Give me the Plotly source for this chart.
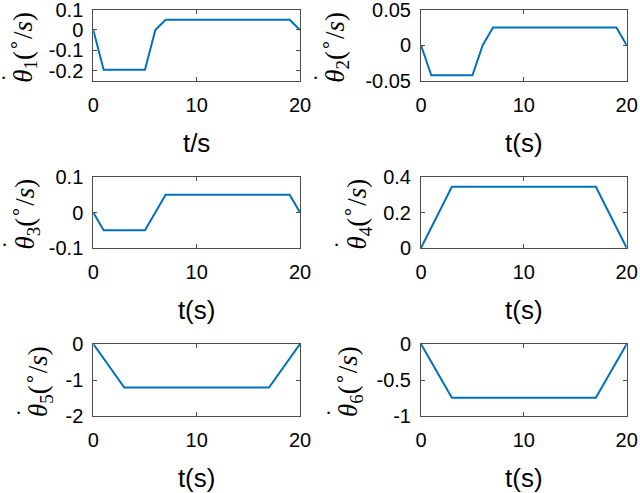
import plotly.graph_objects as go

# ---- data ----
t1 = [0, 1, 5, 6, 7, 19, 20]
v1 = [0, -0.195, -0.195, 0, 0.05, 0.05, 0]
t2 = [0, 1, 5, 6, 7, 19, 20]
v2 = [0, -0.042, -0.042, 0, 0.025, 0.025, 0]
t3 = [0, 1, 5, 6, 7, 19, 20]
v3 = [0, -0.05, -0.05, 0, 0.05, 0.05, 0]
t4 = [0, 3, 17, 20]
v4 = [0, 0.345, 0.345, 0]
t5 = [0, 3, 17, 20]
v5 = [0, -1.21, -1.21, 0]
t6 = [0, 3, 17, 20]
v6 = [0, -0.745, -0.745, 0]

x_titles = ["t/s", "t(s)", "t(s)", "t(s)", "t(s)", "t(s)"]
y_ranges = [[-0.25, 0.1], [-0.05, 0.05], [-0.1, 0.1], [0, 0.4], [-2, 0], [-1, 0]]
y_ticks = [[-0.2, -0.1, 0, 0.1], [-0.05, 0, 0.05], [-0.1, 0, 0.1], [0, 0.2, 0.4], [-2, -1, 0], [-1, -0.5, 0]]
y_ticktext = [["-0.2", "-0.1", "0", "0.1"], ["-0.05", "0", "0.05"], ["-0.1", "0", "0.1"],
              ["0", "0.2", "0.4"], ["-2", "-1", "0"], ["-1", "-0.5", "0"]]
x_ticks = [0, 10, 20]

series = [(t1, v1), (t2, v2), (t3, v3), (t4, v4), (t5, v5), (t6, v6)]

W, H = 640, 493
col_px = [(93.3, 300.0), (421.0, 626.7)]
row_px = [(9.5, 81.0), (177.0, 248.0), (344.0, 416.0)]
# y-label centre x (px) per subplot
ylab_x = [22.5, 334.5, 24.0, 356.0, 38.0, 348.0]

fig = go.Figure()
FONT = "Liberation Sans, Arial, sans-serif"
SERIF = "Liberation Serif, Times New Roman, serif"
AX = "#4d4d4d"

for i, (tt, vv) in enumerate(series):
    r, c = divmod(i, 2)
    n = i + 1
    xa = "x" if n == 1 else f"x{n}"
    ya = "y" if n == 1 else f"y{n}"
    fig.add_trace(go.Scatter(x=tt, y=vv, mode="lines",
                             line=dict(color="#0072BD", width=2),
                             xaxis=xa, yaxis=ya, showlegend=False,
                             hoverinfo="skip"))
    x0, x1 = col_px[c]
    top, bot = row_px[r]
    lo, hi = y_ranges[i]
    eps = (hi - lo) * 1e-6
    common = dict(showline=True, linecolor=AX, linewidth=1, mirror="allticks",
                  ticks="inside", ticklen=4, tickcolor=AX, showgrid=False,
                  zeroline=False, automargin=False, ticklabeloverflow="allow",
                  tickfont=dict(family=FONT, size=20, color="#000"))
    fig.layout[f"xaxis{'' if n == 1 else n}"] = dict(
        domain=[x0 / W, x1 / W], anchor=ya, range=[0, 20],
        tickvals=x_ticks, ticktext=[str(v) for v in x_ticks],
        ticklabelstandoff=6,
        title=dict(text=x_titles[i], font=dict(family=FONT, size=26, color="#000"), standoff=18),
        **common)
    fig.layout[f"yaxis{'' if n == 1 else n}"] = dict(
        domain=[1 - bot / H, 1 - top / H], anchor=xa, range=[lo - eps, hi + eps],
        tickvals=y_ticks[i], ticktext=y_ticktext[i],
        ticklabelstandoff=5,
        **common)
    cy = (top + bot) / 2 + 2
    cx = ylab_x[i]
    fig.add_annotation(text=f"<i>θ</i><sub>{n}</sub>(<sup>∘</sup>/<i>s</i>)",
                       textangle=-90, xref="paper", yref="paper",
                       x=cx / W, y=1 - cy / H, xanchor="center", yanchor="middle",
                       showarrow=False, font=dict(family=SERIF, size=27, color="#000"))
    fig.add_annotation(text="•", xref="paper", yref="paper",
                       x=(cx - 19.5) / W, y=1 - (cy + 31) / H,
                       xanchor="center", yanchor="middle",
                       showarrow=False, font=dict(family=FONT, size=9, color="#000"))

fig.update_layout(width=W, height=H, margin=dict(l=0, r=0, t=0, b=0),
                  paper_bgcolor="white", plot_bgcolor="white")
fig.write_html("out.html", config={"displayModeBar": False},
               post_script="document.body.style.margin='0px';")
